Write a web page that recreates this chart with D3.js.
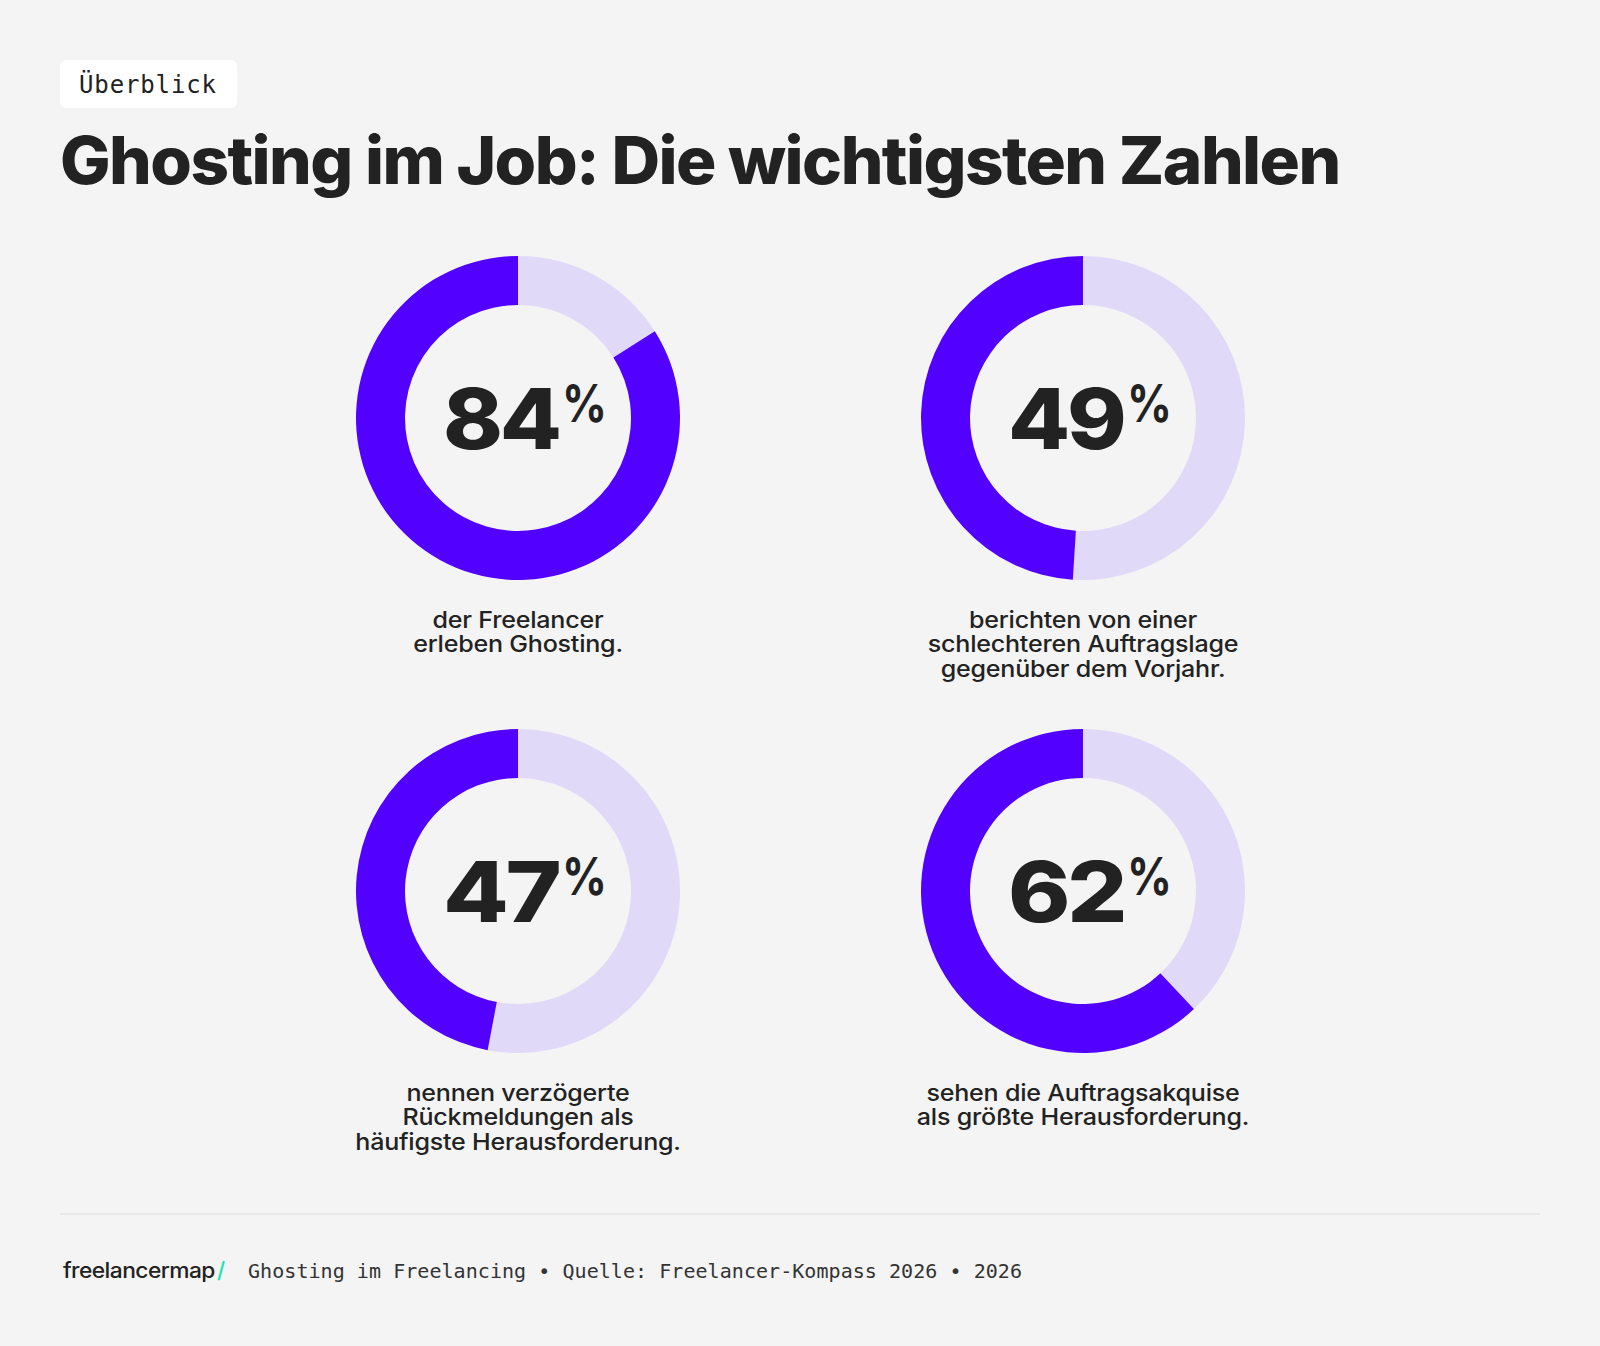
<!DOCTYPE html>
<html>
<head>
<meta charset="utf-8">
<script src="https://cdn.jsdelivr.net/npm/d3@7"></script>
<style>
  html, body { margin: 0; padding: 0; background: #f4f4f4; }
  svg { display: block; }
</style>
</head>
<body>
<svg id="chart" width="1600" height="1346"></svg>
<script>
// data
const values   = [84, 49, 47, 62];
const captions = [
  ["der Freelancer", "erleben Ghosting."],
  ["berichten von einer", "schlechteren Auftragslage", "gegenüber dem Vorjahr."],
  ["nennen verzögerte", "Rückmeldungen als", "häufigste Herausforderung."],
  ["sehen die Auftragsakquise", "als größte Herausforderung."]
];
const tagLabel   = "Überblick";
const titleText  = "Ghosting im Job: Die wichtigsten Zahlen";
const footerText = "Ghosting im Freelancing • Quelle: Freelancer-Kompass 2026 • 2026";

const svg = d3.select("#chart");
const W = 1600, H = 1346;
const PURPLE = "#5200ff", LIGHT = "#e1d9f8", INK = "#222222";
const SANS = "Inter, 'Noto Sans', sans-serif";
const MONO = "'DejaVu Sans Mono', 'Liberation Mono', monospace";

svg.append("rect").attr("width", W).attr("height", H).attr("fill", "#f4f4f4");

// stretch letter-spacing so a text fills a given width
function fitWidth(sel, target) {
  const n = sel.text().length;
  const w = sel.node().getComputedTextLength();
  sel.attr("letter-spacing", (target - w) / Math.max(1, n - 1));
}

// squeeze/stretch a text horizontally around x0 so it is `target` wide
function fitScale(sel, target, x0) {
  const w = sel.node().getBBox().width;
  const s = target / w;
  sel.attr("transform", `translate(${x0},0) scale(${s},1) translate(${-x0},0)`);
}

// tag
svg.append("rect")
  .attr("x", 60).attr("y", 60).attr("width", 177).attr("height", 48)
  .attr("rx", 6).attr("fill", "#ffffff");
svg.append("text")
  .attr("x", 79).attr("y", 93)
  .attr("font-family", MONO).attr("font-size", 24)
  .attr("fill", INK)
  .text(tagLabel)
  .call(fitWidth, 137);

// title
svg.append("text")
  .attr("x", 60).attr("y", 184)
  .attr("font-family", SANS).attr("font-weight", 800).attr("font-size", 66)
  .attr("letter-spacing", -1.5)
  .attr("fill", INK)
  .text(titleText)
  .call(fitScale, 1280, 60);

// donuts
const cols = d3.scalePoint().domain([0, 1]).range([518, 1083]);
const rows = d3.scalePoint().domain([0, 1]).range([418, 891]);
const arc  = d3.arc().innerRadius(113).outerRadius(162);
const pie  = d3.pie().sort(null).value(d => d);

values.forEach((v, i) => {
  const cx = cols(i % 2), cy = rows(Math.floor(i / 2));
  const g = svg.append("g").attr("transform", `translate(${cx},${cy})`);

  g.selectAll("path")
    .data(pie([100 - v, v]))
    .join("path")
      .attr("d", arc)
      .attr("fill", (d, j) => j === 0 ? LIGHT : PURPLE);

  // big number, widened, plus a raised percent sign
  const num = g.append("text")
    .attr("x", -75).attr("y", 31)
    .attr("font-family", SANS).attr("font-weight", 800).attr("font-size", 84)
    .attr("letter-spacing", -3)
    .attr("fill", INK)
    .text(v)
    .call(fitScale, 116, -75);
  g.append("text")
    .attr("x", 44).attr("y", 4)
    .attr("font-family", SANS).attr("font-weight", 700).attr("font-size", 52)
    .attr("fill", INK)
    .text("%")
    .call(fitScale, 45, 44);

  const cap = g.append("text")
    .attr("y", 210)
    .attr("font-family", SANS).attr("font-weight", 500).attr("font-size", 23)
    .attr("letter-spacing", -0.2)
    .attr("fill", INK)
    .attr("text-anchor", "middle")
    .attr("transform", "scale(1.09,1)");
  cap.selectAll("tspan")
    .data(captions[i])
    .join("tspan")
      .attr("x", 0)
      .attr("dy", (d, j) => j === 0 ? 0 : 24.5)
      .text(d => d);
});

// footer
svg.append("line")
  .attr("x1", 60).attr("x2", 1540).attr("y1", 1214).attr("y2", 1214)
  .attr("stroke", "#e4e4e4").attr("stroke-width", 1.5);

const logo = svg.append("text")
  .attr("x", 63).attr("y", 1278)
  .attr("font-family", SANS).attr("font-weight", 500).attr("font-size", 21)
  .attr("letter-spacing", -0.5)
  .attr("fill", INK)
  .text("freelancermap")
  .call(fitScale, 152, 63);
svg.append("text")
  .attr("x", 217).attr("y", 1278)
  .attr("font-family", SANS).attr("font-weight", 500).attr("font-size", 22)
  .attr("fill", "#19e3b1")
  .text("/");

svg.append("text")
  .attr("x", 248).attr("y", 1278)
  .attr("font-family", MONO).attr("font-size", 20)
  .attr("fill", "#333333")
  .text(footerText)
  .call(fitWidth, 774);
</script>
</body>
</html>
